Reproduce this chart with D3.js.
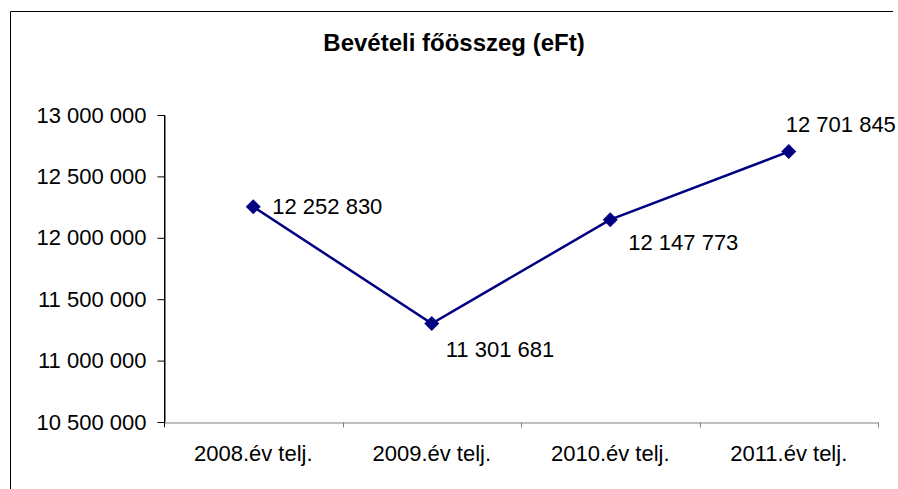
<!DOCTYPE html>
<html>
<head>
<meta charset="utf-8">
<script src="https://cdn.jsdelivr.net/npm/d3@7"></script>
<style>
  body { margin: 0; background: #fff; }
  text { font-family: "Liberation Sans", Arial, sans-serif; }
</style>
</head>
<body>
<div id="chart"></div>
<script>
// data
const categories = ["2008.év telj.", "2009.év telj.", "2010.év telj.", "2011.év telj."];
const values = [12252830, 11301681, 12147773, 12701845];
const yTicks = [10500000, 11000000, 11500000, 12000000, 12500000, 13000000];
const title = "Bevételi főösszeg (eFt)";

const W = 898, H = 489;
const plot = { left: 164, right: 878, top: 115, bottom: 422 };

const locale = d3.formatLocale({ decimal: ",", thousands: " ", grouping: [3], currency: ["", ""] });
const fmt = locale.format(",");

const svg = d3.select("#chart").append("svg")
  .attr("width", W)
  .attr("height", H);

// outer frame (only top and left visible)
svg.append("path")
  .attr("d", "M10.5,489V11.5H893")
  .attr("fill", "none")
  .attr("stroke", "#000")
  .attr("stroke-width", 1);

svg.append("text")
  .attr("x", 454)
  .attr("y", 51)
  .attr("text-anchor", "middle")
  .attr("font-size", "24px")
  .attr("font-weight", "bold")
  .text(title);

const x = d3.scaleBand()
  .domain(categories)
  .range([plot.left, plot.right])
  .padding(0);

const y = d3.scaleLinear()
  .domain([yTicks[0], yTicks[yTicks.length - 1]])
  .range([plot.bottom, plot.top]);

/////////////////////////////
// y axis
const yAxis = svg.append("g")
  .attr("transform", `translate(${plot.left + 0.5},0)`)
  .call(d3.axisLeft(y).tickValues(yTicks).tickFormat(fmt).tickSize(7).tickSizeOuter(0).tickPadding(11));
yAxis.select(".domain").attr("stroke", "#000");
yAxis.selectAll(".tick line").attr("stroke", "#000");
yAxis.selectAll("text")
  .attr("font-size", "22px")
  .attr("fill", "#000")
  .attr("font-family", "Liberation Sans, Arial, sans-serif");

/////////////////////////////
// x axis
const xAxis = svg.append("g")
  .attr("transform", `translate(0,${plot.bottom + 0.5})`)
  .call(d3.axisBottom(x).tickSize(0).tickPadding(23));
xAxis.select(".domain").attr("stroke", "#808080");
xAxis.selectAll("text")
  .attr("font-size", "22px")
  .attr("fill", "#000")
  .attr("font-family", "Liberation Sans, Arial, sans-serif");

// category boundary ticks
const edges = categories.map(c => x(c)).concat([x.range()[1]]);
xAxis.selectAll(".edge")
  .data(edges)
  .join("line")
  .attr("class", "edge")
  .attr("x1", d => Math.round(d) + 0.5)
  .attr("x2", d => Math.round(d) + 0.5)
  .attr("y1", 0)
  .attr("y2", 5)
  .attr("stroke", "#808080");

// redraw y domain over x axis so it stays black
svg.append("line")
  .attr("x1", plot.left + 0.5).attr("x2", plot.left + 0.5)
  .attr("y1", plot.top).attr("y2", plot.bottom + 5)
  .attr("stroke", "#000");

/////////////////////////////
// line + markers
const cx = (d, i) => x(categories[i]) + x.bandwidth() / 2;
const line = d3.line()
  .x(cx)
  .y(d => y(d));

svg.append("path")
  .datum(values)
  .attr("d", line)
  .attr("fill", "none")
  .attr("stroke", "#000080")
  .attr("stroke-width", 2.5);

svg.selectAll(".marker")
  .data(values)
  .join("path")
  .attr("class", "marker")
  .attr("transform", (d, i) => `translate(${cx(d, i)},${y(d)})`)
  .attr("d", "M0,-7.5L7.5,0L0,7.5L-7.5,0Z")
  .attr("fill", "#000080");

// data labels, Excel-like placement
const labelOffset = [[19, 0], [14, 26], [18, 23], [-3, -27]];
svg.selectAll(".lbl")
  .data(values)
  .join("text")
  .attr("class", "lbl")
  .attr("x", (d, i) => cx(d, i) + labelOffset[i][0])
  .attr("y", (d, i) => y(d) + labelOffset[i][1])
  .attr("dy", "0.35em")
  .attr("font-size", "22px")
  .attr("fill", "#000")
  .text(d => fmt(d));
</script>
</body>
</html>
